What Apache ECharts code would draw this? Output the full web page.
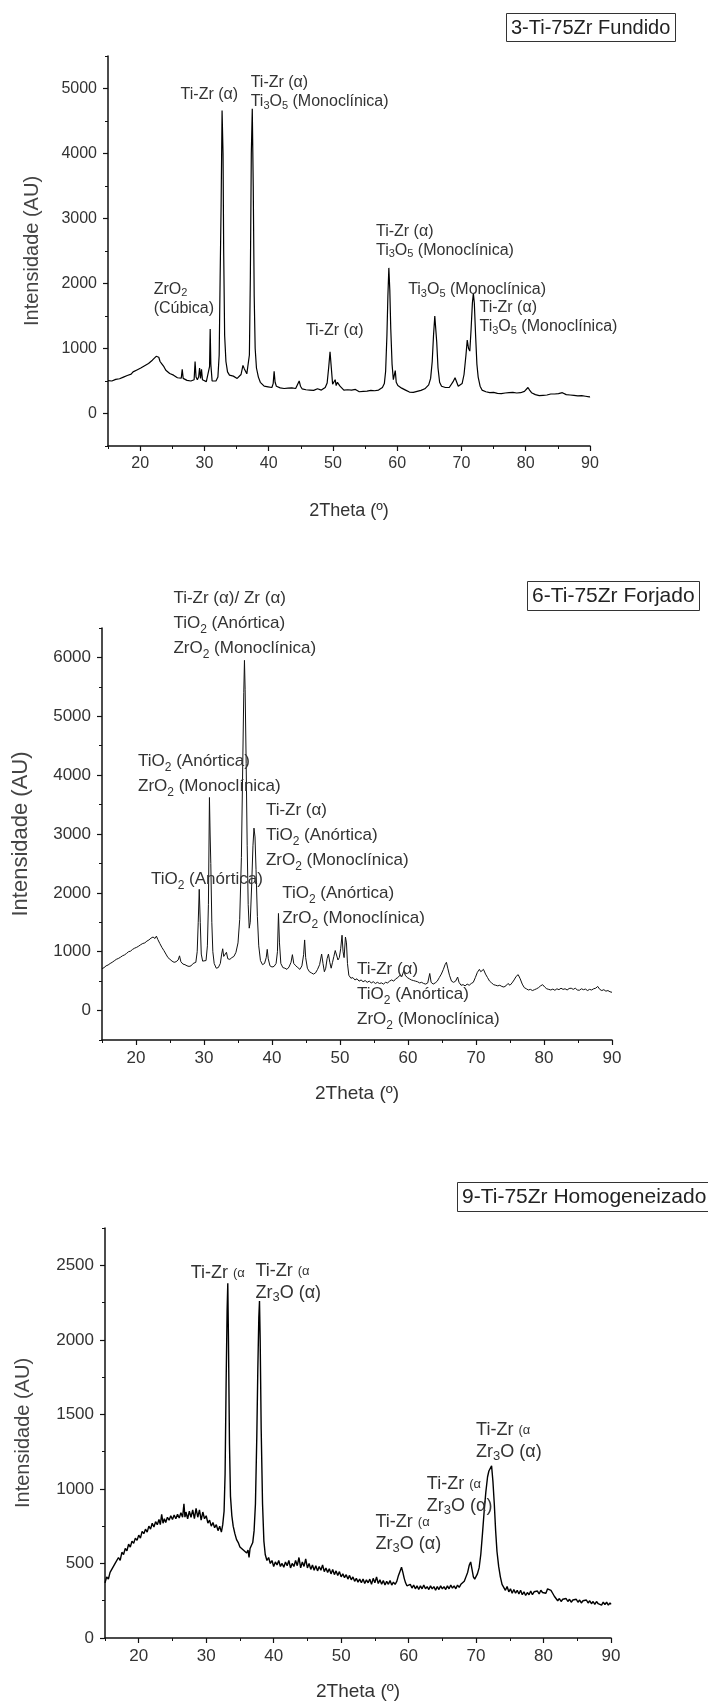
<!DOCTYPE html>
<html>
<head>
<meta charset="utf-8">
<script src="https://cdn.jsdelivr.net/npm/echarts@6/dist/echarts.min.js"></script>
<style>
  html, body { margin: 0; padding: 0; background: #fff; }
  #main { width: 708px; height: 1702px; }
</style>
</head>
<body>
<div id="main"></div>
<script>
// 2Theta / intensity pairs
var fundido = [[15,505],[15.3,520],[15.6,500],[15.9,530],[16.2,525],[16.5,545],[16.8,535],[17.1,565],[17.4,560],[17.7,590],[18,585],[18.3,610],[18.6,605],[18.9,640],[19.2,650],[19.5,670],[19.8,665],[20.1,700],[20.4,715],[20.7,735],[21,730],[21.3,770],[21.6,790],[21.9,820],[22.2,850],[22.5,880],[22.7,850],[22.9,865],[23.1,800],[23.4,760],[23.7,720],[24,665],[24.3,640],[24.6,615],[24.9,590],[25.2,590],[25.5,560],[25.8,550],[26.1,535],[26.4,545],[26.55,680],[26.7,540],[27,520],[27.3,510],[27.6,525],[27.9,500],[28.2,505],[28.4,520],[28.55,800],[28.7,560],[28.9,520],[29.1,560],[29.25,700],[29.4,540],[29.55,680],[29.7,520],[30,510],[30.3,490],[30.6,505],[30.8,720],[30.9,1300],[31.0,760],[31.2,500],[31.5,480],[31.8,500],[32.1,560],[32.3,900],[32.45,2100],[32.6,3200],[32.75,4660],[32.9,4000],[33.0,2500],[33.15,1200],[33.35,800],[33.6,640],[33.9,590],[34.2,560],[34.5,575],[34.8,545],[35.1,540],[35.4,560],[35.7,600],[36.0,740],[36.2,690],[36.4,650],[36.6,610],[36.8,640],[37.0,900],[37.15,2100],[37.3,4000],[37.45,4690],[37.6,3500],[37.75,1800],[37.9,1000],[38.1,700],[38.4,560],[38.7,480],[39,450],[39.3,420],[39.6,440],[39.9,410],[40.2,420],[40.5,400],[40.7,460],[40.85,650],[41.0,480],[41.2,420],[41.5,405],[41.8,395],[42.1,410],[42.4,385],[42.7,400],[43,390],[43.3,380],[43.6,395],[43.9,375],[44.2,385],[44.5,410],[44.75,500],[44.95,420],[45.2,380],[45.5,375],[45.8,365],[46.1,380],[46.4,360],[46.7,370],[47,355],[47.3,365],[47.6,380],[47.9,370],[48.2,360],[48.5,385],[48.8,400],[49.1,470],[49.35,720],[49.55,950],[49.75,700],[49.95,450],[50.15,420],[50.35,520],[50.5,430],[50.7,480],[50.9,500],[51.1,420],[51.4,390],[51.7,360],[52,350],[52.3,365],[52.6,340],[52.9,360],[53.2,345],[53.5,370],[53.8,350],[54.1,335],[54.4,355],[54.7,340],[55,360],[55.3,345],[55.6,330],[55.9,355],[56.2,340],[56.5,350],[56.8,335],[57.1,360],[57.4,370],[57.7,400],[58,460],[58.2,650],[58.4,1200],[58.55,1800],[58.7,2240],[58.85,1900],[59.0,1300],[59.2,760],[59.4,520],[59.6,520],[59.7,660],[59.85,480],[60.1,430],[60.4,400],[60.7,390],[61,375],[61.3,360],[61.6,350],[61.9,330],[62.2,345],[62.5,325],[62.8,350],[63.1,340],[63.4,360],[63.7,355],[64,370],[64.3,380],[64.6,400],[64.9,440],[65.2,540],[65.45,800],[65.65,1200],[65.85,1500],[66.0,1480],[66.15,1100],[66.35,700],[66.6,480],[66.9,420],[67.2,405],[67.5,400],[67.8,410],[68.1,400],[68.4,430],[68.7,490],[69.0,550],[69.2,520],[69.5,420],[69.8,410],[70.1,460],[70.4,600],[70.7,900],[70.9,1130],[71.1,1000],[71.3,960],[71.5,1300],[71.7,1700],[71.85,1850],[72.0,1700],[72.2,1200],[72.4,760],[72.6,560],[72.9,420],[73.2,360],[73.5,350],[73.8,335],[74.1,345],[74.4,320],[74.7,340],[75,325],[75.3,335],[75.6,310],[75.9,320],[76.2,305],[76.5,325],[76.8,315],[77.1,300],[77.4,320],[77.7,310],[78,325],[78.3,305],[78.6,315],[78.9,300],[79.2,320],[79.5,325],[79.8,340],[80.1,370],[80.35,400],[80.6,360],[80.9,320],[81.2,300],[81.5,290],[81.8,280],[82.1,275],[82.4,290],[82.7,280],[83,295],[83.3,285],[83.6,290],[83.9,300],[84.2,285],[84.5,300],[84.8,310],[85.1,305],[85.4,330],[85.7,320],[86,300],[86.3,290],[86.6,310],[86.9,285],[87.2,300],[87.5,280],[87.8,295],[88.1,270],[88.4,290],[88.7,275],[89,285],[89.3,265],[89.6,280],[89.9,255],[90,260]];

var forjado = [[15,710],[15.3,730],[15.6,760],[15.9,775],[16.2,800],[16.5,820],[16.8,845],[17.1,870],[17.4,885],[17.7,905],[18,930],[18.3,945],[18.6,970],[18.9,1000],[19.2,1010],[19.5,1040],[19.8,1060],[20.1,1075],[20.4,1095],[20.7,1120],[21,1140],[21.3,1150],[21.6,1180],[21.9,1200],[22.2,1230],[22.5,1250],[22.8,1225],[23.0,1265],[23.2,1210],[23.5,1140],[23.8,1075],[24.1,1020],[24.4,960],[24.7,900],[25,870],[25.3,840],[25.6,820],[25.9,830],[26.2,860],[26.4,930],[26.6,830],[26.9,790],[27.2,780],[27.5,760],[27.8,750],[28.1,760],[28.4,800],[28.6,780],[28.8,820],[29.0,1000],[29.15,1500],[29.3,2060],[29.45,1500],[29.6,960],[29.8,840],[30.0,820],[30.3,850],[30.5,1100],[30.65,1800],[30.8,3620],[30.9,3000],[31.0,2500],[31.15,1500],[31.3,1000],[31.5,800],[31.8,720],[32.1,730],[32.4,800],[32.6,960],[32.75,1050],[32.9,920],[33.1,930],[33.3,990],[33.5,880],[33.8,870],[34.1,900],[34.4,920],[34.7,990],[35.0,1150],[35.25,1550],[35.5,2600],[35.7,4200],[35.85,5400],[35.95,5950],[36.05,5450],[36.2,4200],[36.35,2800],[36.5,1800],[36.65,1400],[36.8,1500],[37.0,2100],[37.2,2800],[37.35,3100],[37.5,2950],[37.65,2400],[37.85,1600],[38.05,1100],[38.3,850],[38.6,780],[38.9,800],[39.15,900],[39.3,1040],[39.45,880],[39.7,760],[40.0,740],[40.3,750],[40.6,800],[40.8,1000],[40.95,1650],[41.1,1150],[41.3,800],[41.6,730],[41.9,720],[42.2,700],[42.5,740],[42.8,820],[43.0,950],[43.2,800],[43.5,760],[43.8,730],[44.1,700],[44.4,760],[44.65,950],[44.8,1200],[44.95,900],[45.2,720],[45.5,660],[45.8,640],[46.1,620],[46.4,640],[46.7,700],[47.0,780],[47.3,960],[47.5,800],[47.7,660],[47.9,720],[48.1,880],[48.3,960],[48.5,820],[48.7,720],[48.9,820],[49.1,920],[49.3,1020],[49.5,1000],[49.7,860],[49.9,900],[50.1,1050],[50.3,1280],[50.45,1000],[50.6,900],[50.8,1250],[50.95,1150],[51.1,800],[51.3,600],[51.6,550],[51.9,560],[52.2,520],[52.5,540],[52.8,500],[53.1,520],[53.4,490],[53.7,510],[54,480],[54.3,500],[54.6,470],[54.9,490],[55.2,460],[55.5,480],[55.8,460],[56.1,470],[56.4,450],[56.7,480],[57,470],[57.3,500],[57.6,520],[57.9,500],[58.2,540],[58.5,560],[58.8,600],[59.1,580],[59.4,680],[59.6,600],[59.9,560],[60.2,540],[60.5,520],[60.8,510],[61.1,500],[61.4,490],[61.7,470],[62,480],[62.3,460],[62.6,450],[62.9,470],[63.2,630],[63.4,480],[63.7,450],[64,470],[64.3,500],[64.6,560],[64.9,620],[65.2,700],[65.45,780],[65.65,820],[65.85,720],[66.1,600],[66.4,500],[66.7,480],[67.0,500],[67.3,570],[67.5,480],[67.8,430],[68.1,440],[68.4,420],[68.7,450],[69.0,430],[69.3,460],[69.6,480],[69.9,560],[70.2,650],[70.5,700],[70.7,660],[70.9,680],[71.1,700],[71.4,620],[71.7,560],[72.0,500],[72.3,470],[72.6,440],[72.9,430],[73.2,420],[73.5,430],[73.8,410],[74.1,400],[74.4,420],[74.7,460],[75.0,430],[75.3,470],[75.6,520],[75.9,580],[76.2,610],[76.5,540],[76.8,450],[77.1,390],[77.4,370],[77.7,350],[78,360],[78.3,340],[78.6,355],[78.9,370],[79.2,390],[79.5,420],[79.8,440],[80.1,400],[80.4,370],[80.7,360],[81,350],[81.3,365],[81.6,345],[81.9,370],[82.2,355],[82.5,380],[82.8,360],[83.1,370],[83.4,350],[83.7,375],[84,380],[84.3,360],[84.6,380],[84.9,350],[85.2,345],[85.5,370],[85.8,355],[86.1,365],[86.4,340],[86.7,360],[87,350],[87.3,370],[87.6,380],[87.9,410],[88.2,360],[88.5,340],[88.8,355],[89.1,330],[89.4,340],[89.7,320],[90,310]];

var homogeneizado = [[15,370],[15.25,410],[15.5,395],[15.75,440],[16,460],[16.25,450],[16.5,500],[16.75,490],[17,540],[17.25,520],[17.5,575],[17.75,560],[18,600],[18.25,585],[18.5,630],[18.75,610],[19,650],[19.25,635],[19.5,670],[19.75,655],[20,690],[20.25,670],[20.5,715],[20.75,700],[21,730],[21.25,710],[21.5,750],[21.75,730],[22,770],[22.25,745],[22.5,780],[22.75,760],[23,795],[23.2,760],[23.4,830],[23.6,770],[23.8,800],[24,775],[24.25,810],[24.5,790],[24.75,820],[25,795],[25.25,825],[25.5,800],[25.75,830],[26,805],[26.25,840],[26.5,810],[26.7,900],[26.85,810],[27,845],[27.25,800],[27.5,850],[27.75,810],[28,860],[28.25,800],[28.5,870],[28.75,810],[29,860],[29.25,790],[29.5,845],[29.75,800],[30,820],[30.25,770],[30.5,790],[30.75,750],[31,775],[31.25,740],[31.5,760],[31.75,720],[32,750],[32.25,710],[32.45,760],[32.65,850],[32.8,1100],[32.95,1700],[33.1,2200],[33.2,2380],[33.3,2000],[33.45,1300],[33.6,950],[33.8,820],[34.0,750],[34.25,700],[34.5,660],[34.75,640],[35,610],[35.25,620],[35.5,590],[35.75,600],[36.0,570],[36.2,590],[36.35,540],[36.5,600],[36.7,590],[36.9,640],[37.1,720],[37.3,900],[37.5,1350],[37.65,1800],[37.8,2150],[37.9,2260],[38.0,2000],[38.15,1400],[38.35,900],[38.55,650],[38.75,560],[39.0,520],[39.25,540],[39.5,500],[39.75,520],[40,480],[40.25,510],[40.5,490],[40.75,520],[41,480],[41.25,500],[41.5,475],[41.75,510],[42,485],[42.25,520],[42.5,470],[42.75,500],[43,480],[43.25,520],[43.5,485],[43.75,540],[44,470],[44.25,510],[44.5,480],[44.75,530],[45,470],[45.25,500],[45.5,460],[45.75,490],[46,455],[46.25,485],[46.5,450],[46.75,480],[47,455],[47.25,490],[47.5,445],[47.75,470],[48,440],[48.25,465],[48.5,430],[48.75,460],[49,425],[49.25,450],[49.5,420],[49.75,445],[50,410],[50.25,430],[50.5,405],[50.75,425],[51,395],[51.25,420],[51.5,390],[51.75,410],[52,380],[52.25,400],[52.5,375],[52.75,395],[53,370],[53.25,395],[53.5,365],[53.75,390],[54,370],[54.25,395],[54.5,360],[54.75,400],[55,370],[55.25,410],[55.5,365],[55.75,390],[56,360],[56.25,385],[56.5,355],[56.75,380],[57,360],[57.25,385],[57.5,355],[57.75,375],[58,360],[58.25,380],[58.5,420],[58.75,450],[58.95,475],[59.15,440],[59.35,400],[59.55,370],[59.75,350],[60,340],[60.25,360],[60.5,335],[60.75,355],[61,330],[61.25,350],[61.5,325],[61.75,350],[62,330],[62.25,355],[62.5,330],[62.75,345],[63,325],[63.25,350],[63.5,330],[63.75,345],[64,320],[64.25,345],[64.5,325],[64.75,350],[65,330],[65.25,345],[65.5,325],[65.75,350],[66,330],[66.25,355],[66.5,335],[66.75,350],[67,330],[67.25,355],[67.5,340],[67.75,360],[68,355],[68.25,380],[68.5,410],[68.75,440],[69.0,490],[69.2,510],[69.4,460],[69.6,410],[69.8,395],[70.0,400],[70.2,430],[70.45,470],[70.7,560],[70.95,700],[71.2,850],[71.45,980],[71.7,1080],[71.9,1120],[72.1,1130],[72.3,1155],[72.5,1050],[72.7,900],[72.9,720],[73.1,580],[73.35,480],[73.6,410],[73.85,360],[74.1,340],[74.35,320],[74.6,345],[74.85,310],[75.1,330],[75.35,300],[75.6,325],[75.85,300],[76.1,320],[76.35,295],[76.6,320],[76.85,290],[77.1,310],[77.35,285],[77.6,305],[77.85,290],[78.1,315],[78.35,290],[78.6,310],[78.85,300],[79.1,315],[79.35,295],[79.6,320],[79.85,305],[80.1,315],[80.35,300],[80.6,330],[80.85,325],[81.1,320],[81.35,300],[81.6,280],[81.85,265],[82.1,250],[82.35,265],[82.6,245],[82.85,260],[83.1,250],[83.35,265],[83.6,245],[83.85,260],[84.1,240],[84.35,255],[84.6,245],[84.85,260],[85.1,240],[85.35,255],[85.6,235],[85.85,250],[86.1,240],[86.35,255],[86.6,235],[86.85,250],[87.1,230],[87.35,245],[87.6,225],[87.85,245],[88.1,230],[88.35,240],[88.6,220],[88.85,240],[89.1,225],[89.35,240],[89.6,220],[89.85,235],[90,225]];

// tick values
var thetaTicks = [20, 30, 40, 50, 60, 70, 80, 90];
var thetaMinor = [15, 25, 35, 45, 55, 65, 75, 85];
var ticksFundido = [0, 1000, 2000, 3000, 4000, 5000];
var minorFundido = [-500, 500, 1500, 2500, 3500, 4500, 5500];
var ticksForjado = [0, 1000, 2000, 3000, 4000, 5000, 6000];
var minorForjado = [-500, 500, 1500, 2500, 3500, 4500, 5500, 6500];
var ticksHomog = [0, 500, 1000, 1500, 2000, 2500];
var minorHomog = [250, 750, 1250, 1750, 2250, 2750];

// phase labels: [2theta, intensity, text]  ({s|..} = subscript)
var notesFundido = [
  [26.3, 5060, 'Ti-Zr (α)'],
  [37.2, 5230, 'Ti-Zr (α)\nTi{s|3}O{s|5} (Monoclínica)'],
  [22.1, 2060, 'ZrO{s|2}\n(Cúbica)'],
  [45.8, 1420, 'Ti-Zr (α)'],
  [56.7, 2950, 'Ti-Zr (α)\nTi{s|3}O{s|5} (Monoclínica)'],
  [61.7, 2050, 'Ti{s|3}O{s|5} (Monoclínica)'],
  [72.8, 1770, 'Ti-Zr (α)\nTi{s|3}O{s|5} (Monoclínica)']
];
var notesForjado = [
  [25.5, 7220, 'Ti-Zr (α)/ Zr (α)\nTiO{s|2} (Anórtica)\nZrO{s|2} (Monoclínica)'],
  [20.3, 4450, 'TiO{s|2} (Anórtica)\nZrO{s|2} (Monoclínica)'],
  [39.1, 3620, 'Ti-Zr (α)\nTiO{s|2} (Anórtica)\nZrO{s|2} (Monoclínica)'],
  [22.2, 2450, 'TiO{s|2} (Anórtica)'],
  [41.5, 2200, 'TiO{s|2} (Anórtica)\nZrO{s|2} (Monoclínica)'],
  [52.5, 910, 'Ti-Zr (α)\nTiO{s|2} (Anórtica)\nZrO{s|2} (Monoclínica)']
];
var notesHomog = [
  [27.7, 2520, 'Ti-Zr {a|(α}'],
  [37.3, 2535, 'Ti-Zr {a|(α}\nZr{s|3}O (α)'],
  [70.0, 1467, 'Ti-Zr {a|(α}\nZr{s|3}O (α)'],
  [62.7, 1107, 'Ti-Zr {a|(α}\nZr{s|3}O (α)'],
  [55.1, 852, 'Ti-Zr {a|(α}\nZr{s|3}O (α)']
];

var FONT = "'Liberation Sans', Arial, sans-serif";
var chart = echarts.init(document.getElementById('main'));

function plain(v) { return String(v); }

function xAxes(grid, fs, nameFs, nameGap) {
  return [
    {
      type: 'value', gridIndex: grid, min: 15, max: 90,
      name: '2Theta (º)', nameLocation: 'middle', nameGap: nameGap,
      nameTextStyle: { fontFamily: FONT, fontSize: nameFs, color: '#333' },
      axisLine: { show: true, onZero: false, lineStyle: { color: '#111', width: 1.5 } },
      axisTick: { show: true, inside: false, length: 5, customValues: thetaTicks, lineStyle: { color: '#111', width: 1.2 } },
      axisLabel: { customValues: thetaTicks, margin: 10, fontFamily: FONT, fontSize: fs, color: '#333', formatter: plain },
      splitLine: { show: false }
    },
    {
      type: 'value', gridIndex: grid, min: 15, max: 90, position: 'bottom',
      axisLine: { show: false, onZero: false },
      axisTick: { show: true, length: 3, customValues: thetaMinor, lineStyle: { color: '#111', width: 1 } },
      axisLabel: { show: false },
      splitLine: { show: false }
    }
  ];
}

function yAxes(grid, min, max, major, minor, fs, nameFs, nameGap) {
  return [
    {
      type: 'value', gridIndex: grid, min: min, max: max,
      name: 'Intensidade (AU)', nameLocation: 'middle', nameGap: nameGap,
      nameTextStyle: { fontFamily: FONT, fontSize: nameFs, color: '#444' },
      axisLine: { show: true, onZero: false, lineStyle: { color: '#111', width: 1.5 } },
      axisTick: { show: true, length: 5, customValues: major, lineStyle: { color: '#111', width: 1.2 } },
      axisLabel: { customValues: major, margin: 11, fontFamily: FONT, fontSize: fs, color: '#333', formatter: plain },
      splitLine: { show: false }
    },
    {
      type: 'value', gridIndex: grid, min: min, max: max, position: 'left',
      axisLine: { show: false, onZero: false },
      axisTick: { show: true, length: 3, customValues: minor, lineStyle: { color: '#111', width: 1 } },
      axisLabel: { show: false },
      splitLine: { show: false }
    }
  ];
}

function titleBox(text, left, top, fs) {
  return {
    text: text, left: left, top: top,
    borderColor: '#333', borderWidth: 1,
    padding: [5, 5, 4, 5],
    textStyle: { fontFamily: FONT, fontSize: fs, fontWeight: 'normal', color: '#222' }
  };
}

chart.setOption({
  backgroundColor: '#fff',
  animation: false,
  title: [
    titleBox('3-Ti-75Zr Fundido', 506, 13, 20),
    titleBox('6-Ti-75Zr Forjado', 527, 581, 21),
    titleBox('9-Ti-75Zr Homogeneizado', 457, 1182, 21)
  ],
  grid: [
    { left: 108, top: 56, width: 482, height: 390 },
    { left: 102, top: 628, width: 510, height: 412 },
    { left: 105, top: 1228, width: 506, height: 411 }
  ],
  xAxis: [].concat(xAxes(0, 16, 18, 56), xAxes(1, 17, 19, 44), xAxes(2, 17, 19, 44)),
  yAxis: [].concat(
    yAxes(0, -500, 5500, ticksFundido, minorFundido, 16, 20, 66),
    yAxes(1, -500, 6500, ticksForjado, minorForjado, 17, 22, 70),
    yAxes(2, 0, 2750, ticksHomog, minorHomog, 17, 20, 72)
  ),
  series: [
    { type: 'line', xAxisIndex: 0, yAxisIndex: 0, data: fundido, showSymbol: false, lineStyle: { color: '#000', width: 1.2 } },
    { type: 'line', xAxisIndex: 2, yAxisIndex: 2, data: forjado, showSymbol: false, lineStyle: { color: '#111', width: 1 } },
    { type: 'line', xAxisIndex: 4, yAxisIndex: 4, data: homogeneizado, showSymbol: false, lineStyle: { color: '#000', width: 1.4 } }
  ]
});

// phase labels placed at data coordinates of each series' axes
function notes(list, seriesIndex, fs, lh) {
  var sub = Math.round(fs * 0.7);
  return list.map(function (n) {
    var p = chart.convertToPixel({ seriesIndex: seriesIndex }, [n[0], n[1]]);
    return {
      type: 'text', x: p[0], y: p[1], silent: true, z: 10,
      style: {
        text: n[2], fontFamily: FONT, fontSize: fs, lineHeight: lh, fill: '#333',
        align: 'left', verticalAlign: 'top', textAlign: 'left', textVerticalAlign: 'top',
        rich: {
          s: { fontFamily: FONT, fontSize: sub, lineHeight: sub, verticalAlign: 'bottom', fill: '#333' },
          a: { fontFamily: FONT, fontSize: sub, lineHeight: lh, fill: '#333' }
        }
      }
    };
  });
}

chart.setOption({
  graphic: [].concat(
    notes(notesFundido, 0, 16, 19),
    notes(notesForjado, 1, 17, 25),
    notes(notesHomog, 2, 18, 22)
  )
});
</script>
</body>
</html>
